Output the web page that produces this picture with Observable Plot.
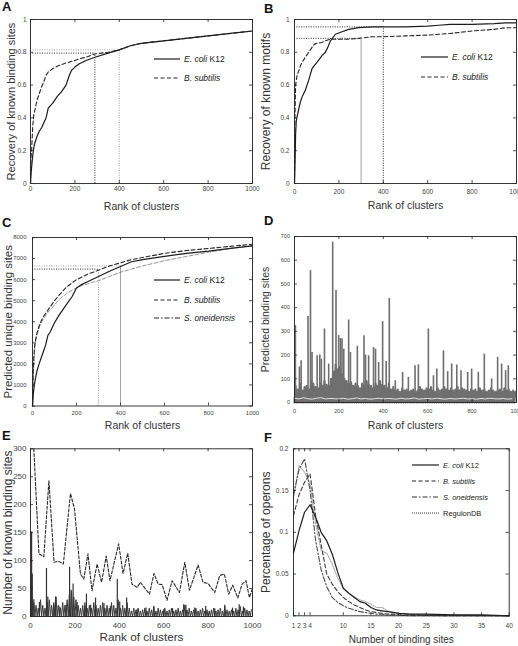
<!DOCTYPE html>
<html><head><meta charset="utf-8">
<script src="https://cdn.jsdelivr.net/npm/d3@7"></script>
<script src="https://cdn.jsdelivr.net/npm/@observablehq/plot@0.6"></script>
<style>
body{margin:0;background:#fff;font-family:Arial,"Liberation Sans",Helvetica,sans-serif;}
#fig{position:relative;width:518px;height:646px;overflow:hidden;background:#fff;}
.pl{position:absolute;}
.pl svg{overflow:visible;}
.letter{position:absolute;font-weight:bold;font-size:13px;color:#111;line-height:13px;}
.leg{position:absolute;display:flex;align-items:center;color:#222;white-space:nowrap;height:12px;}
</style></head><body><div id="fig"></div>
<script>
// ---------- shared ticks ----------
const rankTicks = [0, 200, 400, 600, 800, 1000];
const recTicks = [0, 0.2, 0.4, 0.6, 0.8, 1];
const uniqueTicks = [0, 1000, 2000, 3000, 4000, 5000, 6000, 7000, 8000];
const predTicks = [0, 100, 200, 300, 400, 500, 600, 700];
const knownTicks = [0, 50, 100, 150, 200, 250, 300];
const siteTicks = [1, 2, 3, 4, 10, 15, 20, 25, 30, 35, 40];
const pctTicks = [0, 0.05, 0.1, 0.15, 0.2];

// ---------- panel A ----------
const rankA = [0, 2, 5, 10, 15, 20, 30, 40, 50, 60, 70, 80, 100, 120, 140, 160, 175, 185, 200, 220, 250, 290, 350, 400, 450, 500, 600, 700, 800, 900, 1000];
const ecoliA = [0, 0.05, 0.1, 0.17, 0.22, 0.25, 0.29, 0.32, 0.34, 0.37, 0.40, 0.46, 0.49, 0.53, 0.56, 0.60, 0.66, 0.69, 0.71, 0.73, 0.75, 0.77, 0.795, 0.815, 0.84, 0.855, 0.87, 0.885, 0.9, 0.915, 0.93];
const bsubA = [0, 0.15, 0.2, 0.35, 0.42, 0.45, 0.51, 0.55, 0.59, 0.62, 0.66, 0.68, 0.70, 0.715, 0.725, 0.735, 0.74, 0.745, 0.75, 0.76, 0.77, 0.79, 0.80, 0.815, 0.84, 0.855, 0.87, 0.885, 0.9, 0.915, 0.93];
const refRankA = [290, 400];
const refValA = [0.795, 0.815];

// ---------- panel B ----------
const rankB = [0, 2, 5, 8, 12, 20, 27, 35, 49, 64, 79, 90, 102, 124, 139, 150, 162, 184, 214, 244, 289, 350, 400, 500, 600, 650, 700, 800, 900, 950, 1000];
const ecoliB = [0, 0.1, 0.3, 0.38, 0.41, 0.46, 0.5, 0.53, 0.57, 0.63, 0.7, 0.72, 0.74, 0.78, 0.8, 0.83, 0.87, 0.91, 0.925, 0.94, 0.95, 0.955, 0.955, 0.955, 0.96, 0.965, 0.97, 0.97, 0.975, 0.98, 0.98];
const bsubB = [0, 0.4, 0.6, 0.63, 0.66, 0.69, 0.72, 0.74, 0.77, 0.8, 0.83, 0.85, 0.855, 0.86, 0.87, 0.875, 0.88, 0.88, 0.88, 0.88, 0.885, 0.895, 0.895, 0.9, 0.905, 0.91, 0.915, 0.93, 0.94, 0.95, 0.95];
const refRankB = [300, 400];
const refValB = [0.885, 0.955];

// ---------- panel C ----------
const rankC = [0, 3, 6, 10, 15, 20, 30, 40, 50, 60, 70, 80, 100, 120, 150, 180, 200, 220, 250, 300, 350, 400, 450, 500, 600, 700, 800, 900, 1000];
const ecoliC = [0, 500, 800, 1100, 1400, 1650, 2000, 2300, 2600, 2900, 3350, 3500, 3950, 4300, 4750, 5200, 5600, 5750, 5900, 6150, 6400, 6620, 6850, 6950, 7100, 7250, 7350, 7480, 7600];
const bsubC = [0, 1500, 2300, 2900, 3200, 3450, 3800, 4050, 4250, 4400, 4550, 4700, 5000, 5250, 5600, 5850, 6000, 6100, 6250, 6450, 6650, 6800, 6950, 7050, 7250, 7380, 7480, 7580, 7680];
const soneC = [0, 1200, 2000, 2700, 3100, 3350, 3700, 3950, 4150, 4300, 4450, 4550, 4800, 5050, 5300, 5500, 5600, 5700, 5800, 5950, 6150, 6350, 6500, 6650, 6900, 7100, 7300, 7480, 7620];
const refRankC = [300, 400];
const refValC = [6500, 6650];

// ---------- panel D (sampled every 10 ranks, spikes listed separately) ----------
const bandD = [70, 55, 80, 50, 65, 70, 55, 90, 80, 65,
  60, 80, 70, 90, 75, 70, 100, 130, 160, 140,
  150, 120, 100, 90, 80, 85, 70, 80, 70, 60,
  80, 70, 90, 75, 70, 60, 80, 70, 90, 75,
  70, 60, 80, 55, 65, 50, 55, 45, 60, 50,
  55, 45, 50, 55, 45, 50, 65, 55, 50, 60,
  55, 65, 50, 45, 60, 50, 55, 65, 55, 50,
  60, 50, 55, 65, 50, 60, 55, 50, 45, 55,
  50, 55, 45, 60, 50, 55, 45, 50, 60, 50,
  45, 50, 55, 45, 60, 50, 55, 45, 50, 45];
const lowD = [18, 15, 20, 16, 14, 18, 20, 15, 17, 16, 15, 18, 14, 16, 19, 15, 17, 14, 16, 18,
  15, 17, 16, 14, 18, 15, 16, 19, 14, 16, 17, 15, 18, 16, 14, 17, 15, 16, 18, 15,
  16, 14, 17, 15, 18, 16, 15, 17, 14, 16];
const peakRankD = [4, 22, 30, 61, 72, 79, 102, 114, 121, 135, 154, 172, 187, 199, 207, 214, 222, 244, 252, 283, 313, 320, 334, 356, 365, 379, 397, 413, 427, 454, 487, 513, 543, 558, 603, 626, 641, 671, 690, 708, 731, 750, 780, 798, 828, 855, 888, 915, 933, 951, 963];
const peakValD = [324, 150, 176, 363, 556, 211, 197, 200, 183, 310, 162, 676, 472, 282, 270, 268, 225, 348, 211, 237, 282, 200, 197, 232, 225, 169, 341, 173, 439, 92, 127, 106, 155, 159, 310, 113, 141, 218, 130, 162, 158, 134, 127, 141, 127, 204, 99, 190, 162, 134, 155];

// ---------- panel E ----------
const bandE = [40, 25, 20, 15, 30, 20, 15, 25, 30, 20,
  25, 35, 20, 15, 25, 20, 30, 40, 45, 35,
  30, 20, 15, 20, 25, 15, 20, 15, 25, 20,
  15, 20, 25, 15, 20, 15, 25, 20, 15, 30,
  15, 20, 15, 25, 15, 10, 15, 12, 15, 10,
  12, 15, 10, 15, 12, 18, 10, 15, 12, 10,
  15, 10, 12, 15, 10, 12, 15, 10, 12, 20,
  12, 15, 10, 12, 15, 10, 12, 15, 10, 12,
  10, 12, 15, 10, 12, 15, 10, 18, 12, 10,
  12, 10, 15, 12, 18, 10, 15, 12, 10, 12];
const peakRankE = [3, 5, 8, 15, 40, 72, 78, 105, 113, 132, 160, 176, 183, 192, 210, 244, 252, 271, 293, 331, 360, 391, 402, 433, 480, 520, 556, 600, 640, 690, 700, 740, 789, 830, 875, 910, 940, 959];
const peakValE = [75, 151, 76, 30, 25, 86, 35, 20, 35, 17, 20, 88, 47, 58, 25, 18, 40, 20, 33, 23, 18, 66, 26, 33, 12, 15, 17, 12, 14, 21, 20, 15, 18, 14, 20, 15, 21, 17];
const dashRankE = [15, 38, 60, 83, 106, 125, 148, 180, 198, 225, 240, 259, 277, 300, 320, 341, 358, 397, 417, 438, 457, 480, 495, 536, 556, 575, 593, 615, 638, 671, 695, 716, 755, 777, 800, 830, 852, 873, 893, 911, 934, 953, 971, 986, 1000];
const dashValE = [300, 112, 107, 243, 97, 99, 94, 220, 193, 76, 67, 112, 46, 94, 61, 108, 64, 130, 77, 113, 58, 52, 61, 40, 77, 58, 57, 29, 64, 43, 97, 47, 92, 61, 59, 43, 73, 76, 40, 56, 33, 58, 64, 34, 50];

// ---------- panel F ----------
const sitesF = [1, 2, 3, 4, 5, 6, 7, 8, 9, 10, 11, 12, 13, 14, 15, 16, 17, 18, 19, 20, 22, 25, 30, 35, 40];
const ecoliF = [0.075, 0.102, 0.124, 0.133, 0.118, 0.100, 0.09, 0.074, 0.052, 0.033, 0.027, 0.022, 0.017, 0.015, 0.01, 0.007, 0.006, 0.005, 0.004, 0.003, 0.002, 0.002, 0.001, 0.001, 0];
const bsubF = [0.12, 0.145, 0.16, 0.17, 0.12, 0.085, 0.05, 0.038, 0.029, 0.022, 0.017, 0.013, 0.01, 0.007, 0.005, 0.004, 0.003, 0.002, 0.002, 0.001, 0.001, 0.0005, 0, 0, 0];
const soneF = [0.145, 0.175, 0.188, 0.15, 0.09, 0.055, 0.035, 0.022, 0.016, 0.012, 0.009, 0.007, 0.005, 0.004, 0.003, 0.002, 0.002, 0.001, 0.001, 0.001, 0, 0, 0, 0, 0];
const regF = [0.14, 0.18, 0.172, 0.158, 0.11, 0.078, 0.075, 0.062, 0.045, 0.033, 0.027, 0.023, 0.019, 0.017, 0.014, 0.01, 0.01, 0.006, 0.004, 0.003, 0.002, 0.001, 0.001, 0, 0];

// ---------- text ----------
const rankLabel = "Rank of clusters";
const yLabels = ["Recovery of known binding sites", "Recovery of known motifs", "Predicted unique binding sites", "Predicted binding sites", "Number of known binding sites", "Percentage of operons"];
const xLabelF = "Number of binding sites";
const letters = ["A", "B", "C", "D", "E", "F"];
const legEcoli = "<i>E. coli</i> K12";
const legBsub = "<i>B. subtilis</i>";
const legSone = "<i>S. oneidensis</i>";
const legReg = "RegulonDB";

// ---------- styles ----------
const ST = {
  ecoli: {stroke: "#1c1c1c", strokeWidth: 1.2},
  bsub: {stroke: "#262626", strokeWidth: 1.1, strokeDasharray: "4,2.5"},
  sone: {stroke: "#8a8a8a", strokeWidth: 0.9, strokeDasharray: "4,2"},
  soneF: {stroke: "#4a4a4a", strokeWidth: 1.1, strokeDasharray: "5,2,1.5,2"},
  reg: {stroke: "#a8a8a8", strokeWidth: 1.1, strokeDasharray: "1.5,1.2"},
  dotDark: {stroke: "#111", strokeWidth: 0.9, strokeDasharray: "1,1.4"},
  dotGrey: {stroke: "#999", strokeWidth: 0.9, strokeDasharray: "1,1.4"},
  solidGrey: {stroke: "#999", strokeWidth: 0.9}
};

const fig = document.getElementById("fig");
const pts = (xs, ys) => xs.map((x, i) => ({x, y: ys[i]}));

function panel(o) {
  const fw = o.width - o.ml - o.mr, fh = o.height - o.mt - o.mb;
  const tk = {stroke: "#222", strokeWidth: 0.8};
  const fmt = d => String(d);
  const plot = Plot.plot({
    width: o.width, height: o.height,
    marginTop: o.mt, marginRight: o.mr, marginBottom: o.mb, marginLeft: o.ml,
    x: {domain: o.xDomain, label: null},
    y: {domain: o.yDomain, label: null},
    style: {fontFamily: "Arial, 'Liberation Sans', Helvetica, sans-serif", color: "#333", background: "transparent", overflow: "visible"},
    marks: [
      ...o.marks,
      Plot.frame({stroke: "#222", strokeWidth: 0.9}),
      Plot.tickX(o.xTicks, {x: d => d, insetTop: fh - 3, ...tk}),
      Plot.tickX(o.xTicks, {x: d => d, insetBottom: fh - 3, ...tk}),
      Plot.tickY(o.yTicks, {y: d => d, insetRight: fw - 3, ...tk}),
      Plot.tickY(o.yTicks, {y: d => d, insetLeft: fw - 3, ...tk}),
      Plot.axisX(o.xTicks, {tickSize: 0, tickPadding: o.xPad, fontSize: o.tickFont, label: null, tickFormat: fmt, fill: "#444"}),
      Plot.axisY(o.yTicks, {tickSize: 0, tickPadding: o.yPad, fontSize: o.tickFont, label: null, tickFormat: fmt, fill: "#444"}),
      Plot.text([o.xLabel], {text: d => d, frameAnchor: "bottom", dy: o.xLabelDy, fontSize: o.xLabelFont, fill: "#333"}),
      Plot.text([o.yLabel], {text: d => d, frameAnchor: "left", textAnchor: "middle", dx: o.yLabelDx, rotate: -90, fontSize: o.yLabelFont, fill: "#333"})
    ]
  });
  const div = document.createElement("div");
  div.className = "pl";
  div.style.left = o.left + "px";
  div.style.top = o.top + "px";
  div.appendChild(plot);
  fig.appendChild(div);
}

function letter(t, x, y) {
  const s = document.createElement("div");
  s.className = "letter";
  s.textContent = t;
  s.style.left = x + "px";
  s.style.top = y + "px";
  fig.appendChild(s);
}

function legend(x, ys, items, fs, len) {
  items.forEach((it, i) => {
    const d = document.createElement("div");
    d.className = "leg";
    d.style.left = x + "px";
    d.style.top = (ys[i] - 6) + "px";
    const st = it.st;
    d.innerHTML = `<svg width="${len + 1}" height="12"><line x1="0" x2="${len}" y1="6" y2="6" stroke="${st.stroke}" stroke-width="${st.strokeWidth}" stroke-dasharray="${st.strokeDasharray || ""}"/></svg><span style="font-size:${fs}px;margin-left:3px">${it.label}</span>`;
    fig.appendChild(d);
  });
}

function refMarks(ranks, vals, hStyles, vStyles) {
  const refs = pts(ranks, vals);
  return refs.flatMap((r, i) => [
    Plot.ruleY([r], {y: "y", x1: () => 0, x2: "x", ...hStyles[i]}),
    Plot.ruleX([r], {x: "x", y1: () => 0, y2: "y", ...vStyles[i]})
  ]);
}

// A
panel({
  left: 0, top: 0, width: 259, height: 215, mt: 19, mr: 7, mb: 32, ml: 30,
  xDomain: [0, 1000], yDomain: [0, 1], xTicks: rankTicks, yTicks: recTicks,
  tickFont: 6.5, xPad: 3, yPad: 4,
  xLabel: rankLabel, xLabelDy: 26, xLabelFont: 10.5,
  yLabel: yLabels[0], yLabelDx: -19, yLabelFont: 11,
  marks: [
    ...refMarks(refRankA, refValA, [ST.dotDark, ST.dotGrey], [ST.dotDark, ST.dotGrey]),
    Plot.line(pts(rankA, bsubA), {x: "x", y: "y", ...ST.bsub}),
    Plot.line(pts(rankA, ecoliA), {x: "x", y: "y", ...ST.ecoli})
  ]
});
// B
panel({
  left: 259, top: 0, width: 259, height: 215, mt: 19, mr: 2, mb: 32, ml: 35,
  xDomain: [0, 1000], yDomain: [0, 1], xTicks: rankTicks, yTicks: recTicks,
  tickFont: 6.5, xPad: 6, yPad: 5,
  xLabel: rankLabel, xLabelDy: 25, xLabelFont: 10.5,
  yLabel: yLabels[1], yLabelDx: -28, yLabelFont: 12,
  marks: [
    ...refMarks(refRankB, refValB, [ST.dotDark, ST.dotDark], [ST.solidGrey, ST.dotDark]),
    Plot.line(pts(rankB, bsubB), {x: "x", y: "y", ...ST.bsub}),
    Plot.line(pts(rankB, ecoliB), {x: "x", y: "y", ...ST.ecoli})
  ]
});
// C
panel({
  left: 0, top: 215, width: 259, height: 220, mt: 22, mr: 7, mb: 29.5, ml: 32,
  xDomain: [0, 1000], yDomain: [0, 8000], xTicks: rankTicks, yTicks: uniqueTicks,
  tickFont: 6, xPad: 4.5, yPad: 6,
  xLabel: rankLabel, xLabelDy: 22.5, xLabelFont: 10.5,
  yLabel: yLabels[2], yLabelDx: -24, yLabelFont: 11.5,
  marks: [
    ...refMarks(refRankC, refValC, [ST.dotDark, ST.dotGrey], [ST.dotGrey, ST.solidGrey]),
    Plot.line(pts(rankC, soneC), {x: "x", y: "y", ...ST.sone}),
    Plot.line(pts(rankC, bsubC), {x: "x", y: "y", ...ST.bsub}),
    Plot.line(pts(rankC, ecoliC), {x: "x", y: "y", ...ST.ecoli})
  ]
});
// D
const zigD = bandD.flatMap((v, i) => [{x: i * 10, y: 0}, {x: i * 10 + 5, y: v}]);
panel({
  left: 259, top: 215, width: 259, height: 220, mt: 21, mr: 2, mb: 33, ml: 35,
  xDomain: [0, 1000], yDomain: [0, 700], xTicks: rankTicks, yTicks: predTicks,
  tickFont: 5.5, xPad: 7, yPad: 4.5,
  xLabel: rankLabel, xLabelDy: 26, xLabelFont: 10.5,
  yLabel: yLabels[3], yLabelDx: -29, yLabelFont: 10.5,
  marks: [
    Plot.line(zigD, {x: "x", y: "y", stroke: "#707070", strokeWidth: 2.1}),
    Plot.ruleX(pts(peakRankD, peakValD), {x: "x", y1: () => 0, y2: "y", stroke: "#6e6e6e", strokeWidth: 1.6}),
    Plot.line(lowD.map((v, i) => ({x: i * 20, y: v})), {x: "x", y: "y", stroke: "#e4e4e4", strokeWidth: 1})
  ]
});
// E
const zigE = bandE.flatMap((v, i) => [{x: i * 10, y: 0}, {x: i * 10 + 5, y: v}]);
panel({
  left: 0, top: 435, width: 259, height: 211, mt: 13.3, mr: 7, mb: 30, ml: 30,
  xDomain: [0, 1000], yDomain: [0, 300], xTicks: rankTicks, yTicks: knownTicks,
  tickFont: 8, xPad: 5.5, yPad: 4,
  xLabel: rankLabel, xLabelDy: 24, xLabelFont: 11.7,
  yLabel: yLabels[4], yLabelDx: -22, yLabelFont: 12,
  marks: [
    Plot.line(zigE, {x: "x", y: "y", stroke: "#3a3a3a", strokeWidth: 1}),
    Plot.ruleX(pts(peakRankE, peakValE), {x: "x", y1: () => 0, y2: "y", stroke: "#333", strokeWidth: 1.2}),
    Plot.line(pts(dashRankE, dashValE), {x: "x", y: "y", stroke: "#2a2a2a", strokeWidth: 1.1, strokeDasharray: "3,1.8", clip: true})
  ]
});
// F
panel({
  left: 259, top: 435, width: 259, height: 211, mt: 13.3, mr: 9.3, mb: 30.7, ml: 34,
  xDomain: [1, 40], yDomain: [0, 0.2], xTicks: siteTicks, yTicks: pctTicks,
  tickFont: 6.5, xPad: 8, yPad: 5,
  xLabel: xLabelF, xLabelDy: 26.7, xLabelFont: 10,
  yLabel: yLabels[5], yLabelDx: -27, yLabelFont: 12,
  marks: [
    Plot.line(pts(sitesF, regF), {x: "x", y: "y", ...ST.reg}),
    Plot.line(pts(sitesF, bsubF), {x: "x", y: "y", ...ST.bsub, stroke: "#3a3a3a"}),
    Plot.line(pts(sitesF, soneF), {x: "x", y: "y", ...ST.soneF}),
    Plot.line(pts(sitesF, ecoliF), {x: "x", y: "y", ...ST.ecoli})
  ]
});

// panel letters
letter(letters[0], 2, 0);
letter(letters[1], 264, 2);
letter(letters[2], 2, 216);
letter(letters[3], 264, 214);
letter(letters[4], 2, 429);
letter(letters[5], 264, 431);

// legends
legend(154, [59, 78], [{label: legEcoli, st: ST.ecoli}, {label: legBsub, st: ST.bsub}], 8.5, 26);
legend(421, [57, 77], [{label: legEcoli, st: ST.ecoli}, {label: legBsub, st: ST.bsub}], 8.5, 27);
legend(154, [280, 300, 318], [{label: legEcoli, st: ST.ecoli}, {label: legBsub, st: ST.bsub}, {label: legSone, st: {...ST.soneF, stroke: "#222"}}], 8.5, 26);
legend(412, [465, 481, 497, 513], [{label: legEcoli, st: ST.ecoli}, {label: legBsub, st: ST.bsub}, {label: legSone, st: {...ST.soneF, stroke: "#333"}}, {label: legReg, st: {stroke: "#333", strokeWidth: 1, strokeDasharray: "1,1"}}], 7.5, 27);
</script></body></html>
